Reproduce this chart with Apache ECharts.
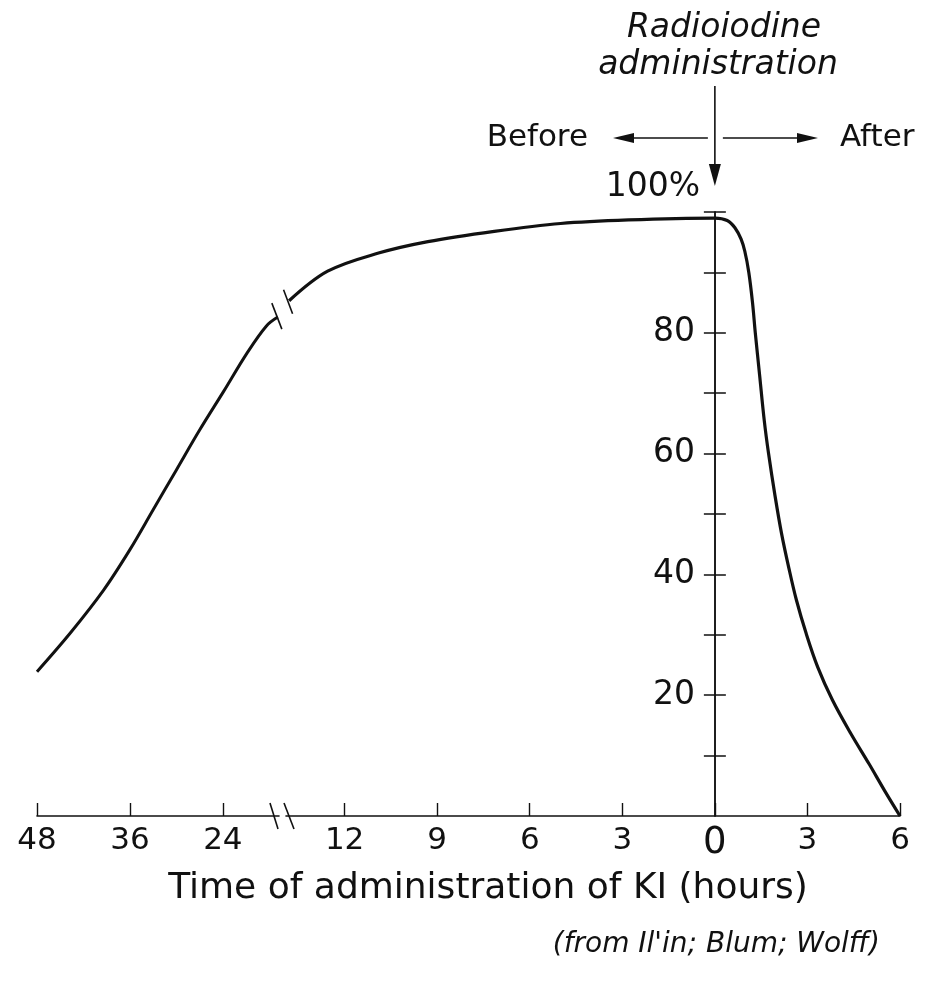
<!DOCTYPE html>
<html><head><meta charset="utf-8">
<script src="https://cdn.jsdelivr.net/npm/echarts@6/dist/echarts.min.js"></script>
<style>html,body{margin:0;padding:0;background:#fff}#c{width:930px;height:985px}</style>
</head><body><div id="c"></div>
<script>
// Hours relative to radioiodine administration (negative = KI given before)
// Early segment (48 h -> ~17 h before), compressed scale left of the axis break
const earlyHours  = [-48, -43.7, -39.4, -36, -33, -30, -27, -23.9, -20.9, -18.4, -16.9];
const earlyUptake = [23.9, 30.3, 37.4, 44.1, 50.7, 57.3, 63.9, 70.3, 76.6, 81.1, 82.6];
// Late segment (~14 h before -> 6 h after)
const lateHours  = [-13.8, -12.55, -10.9, -9.3, -7.15, -5, -2.8, 0, 0.4, 0.65, 0.85, 0.97, 1.1, 1.22, 1.31, 1.45, 1.6, 1.74, 1.95, 2.16, 2.4, 2.64, 2.96, 3.33, 3.81, 4.4, 5.0, 5.5, 6];
const lateUptake = [85.3, 90.2, 93.2, 95.1, 96.8, 98.1, 98.7, 99.0, 98.6, 97.4, 95.5, 93.5, 90, 85, 80, 73, 65.5, 60, 53, 46.8, 41, 35.8, 30.2, 24.7, 19.2, 13.7, 8.6, 4.2, 0];
// Tick positions / labels
const earlyTicks = [-48, -36, -24];
const lateTicks  = [-12, -9, -6, -3, 0, 3, 6];
const yTicks     = [10, 20, 30, 40, 50, 60, 70, 80, 90, 100];
const yLabels    = [20, 40, 60, 80];

const FONT = 'DejaVu Sans';
const INK = '#111';
const GRID_R_LEFT = 286;

const chart = echarts.init(document.getElementById('c'), null, {renderer: 'canvas'});

function xAxisCfg(gridIndex, min, max, ticks) {
  return {
    type: 'value', gridIndex, min, max,
    axisLine: {show: true, onZero: false, lineStyle: {color: INK, width: 1.6}},
    axisTick: {show: true, inside: true, length: 13, customValues: ticks, lineStyle: {color: INK, width: 1.4}},
    axisLabel: {
      show: true, customValues: ticks, margin: 9, color: INK, fontFamily: FONT, fontSize: 31,
      formatter: v => v === 0 ? '{z|0}' : String(Math.abs(v)),
      rich: {z: {fontSize: 37, fontFamily: FONT, color: INK}}
    },
    splitLine: {show: false}
  };
}
function yAxisCfg(gridIndex, inside, showLabel, show) {
  return {
    type: 'value', gridIndex, min: 0, max: 100, interval: 10, show, position: 'left', offset: 0,
    axisLine: {show: true, onZero: false, lineStyle: {color: INK, width: 1.5}},
    axisTick: {show: true, inside, length: 11, customValues: yTicks, lineStyle: {color: INK, width: 1.5}},
    axisLabel: {show: showLabel, customValues: yLabels, margin: 20, color: INK, fontFamily: FONT, fontSize: 33},
    splitLine: {show: false}
  };
}

chart.setOption({
  animation: false,
  backgroundColor: '#fff',
  grid: [
    {left: 37, width: 242, top: 212, height: 604, outerBoundsMode: 'none', containLabel: false},
    {left: GRID_R_LEFT, width: 614, top: 212, height: 604, outerBoundsMode: 'none', containLabel: false}
  ],
  xAxis: [
    xAxisCfg(0, -48, -16.75, earlyTicks),
    xAxisCfg(1, -13.9, 6, lateTicks)
  ],
  yAxis: [
    yAxisCfg(0, false, false, false),
    yAxisCfg(1, false, true, true),
    yAxisCfg(1, true, false, true)
  ],
  series: [
    {
      type: 'line', xAxisIndex: 0, yAxisIndex: 0, clip: false,
      data: earlyHours.map((h, i) => [h, earlyUptake[i]]),
      smooth: 0.35, showSymbol: false, symbol: 'none',
      lineStyle: {color: INK, width: 3}
    },
    {
      type: 'line', xAxisIndex: 1, yAxisIndex: 1, clip: false,
      data: lateHours.map((h, i) => [h, lateUptake[i]]),
      smooth: 0.35, showSymbol: false, symbol: 'none',
      lineStyle: {color: INK, width: 3.2}
    }
  ]
});

// Move the y axis onto hour 0 of the lower scale
const x0 = chart.convertToPixel({xAxisIndex: 1}, 0);
const off = -(x0 - GRID_R_LEFT);
chart.setOption({yAxis: [{}, {offset: off}, {offset: off}]});

// Annotations positioned from the axes' own scales
const yBase = chart.convertToPixel({yAxisIndex: 1}, 0);
const y100 = chart.convertToPixel({yAxisIndex: 1}, 100);
const leftEnd = chart.convertToPixel({gridIndex: 0}, [earlyHours[earlyHours.length - 1], earlyUptake[earlyUptake.length - 1]]);
const rightStart = chart.convertToPixel({gridIndex: 1}, [lateHours[0], lateUptake[0]]);
const axLeftEnd = chart.convertToPixel({xAxisIndex: 0}, -16.75);
const axRightStart = chart.convertToPixel({xAxisIndex: 1}, -13.9);

const stroke = {stroke: INK, lineWidth: 1.6};
function seg(cx, cy, dx, dy, w) {
  return {type: 'line', shape: {x1: cx - dx, y1: cy - dy, x2: cx + dx, y2: cy + dy}, style: {stroke: INK, lineWidth: w || 1.6}, z: 100};
}
function txt(text, x, y, size, align, italic) {
  return {type: 'text', z: 100, style: {text, x, y, font: (italic ? 'italic ' : '') + size + 'px "' + FONT + '"', fill: INK, textAlign: align, textVerticalAlign: 'middle'}};
}

chart.setOption({
  graphic: [
    // Break marks on the x axis
    seg(axLeftEnd - 5, yBase, 4, 13),
    seg(axRightStart + 3, yBase, 5, 13),
    // Break marks on the curve
    seg(leftEnd[0] - 1, leftEnd[1] - 1, 5, 13),
    seg(rightStart[0] - 1, rightStart[1] + 1, 4.5, 12),
    // Vertical arrow at radioiodine administration
    {type: 'line', shape: {x1: x0, y1: 86, x2: x0, y2: 170}, style: stroke, z: 100},
    {type: 'polygon', shape: {points: [[x0 - 6, 164], [x0 + 6, 164], [x0, 186]]}, style: {fill: INK}, z: 100},
    // Before / After arrows
    {type: 'line', shape: {x1: x0 - 7, y1: 138, x2: 625, y2: 138}, style: stroke, z: 100},
    {type: 'polygon', shape: {points: [[613, 138], [634, 133], [634, 143]]}, style: {fill: INK}, z: 100},
    {type: 'line', shape: {x1: x0 + 8, y1: 138, x2: 805, y2: 138}, style: stroke, z: 100},
    {type: 'polygon', shape: {points: [[818, 138], [797, 133], [797, 143]]}, style: {fill: INK}, z: 100},
    // Texts
    txt('Radioiodine', 724, 28, 33, 'center', true),
    txt('administration', 718, 65, 33, 'center', true),
    txt('Before', 588, 138, 31, 'right', false),
    txt('After', 840, 138, 31, 'left', false),
    txt('100%', 700, y100 - 25, 33, 'right', false),
    txt('Time of administration of KI (hours)', 488, 889, 36, 'center', false),
    txt("(from Il'in; Blum; Wolff)", 880, 945, 28, 'right', true)
  ]
});
</script>
</body></html>
